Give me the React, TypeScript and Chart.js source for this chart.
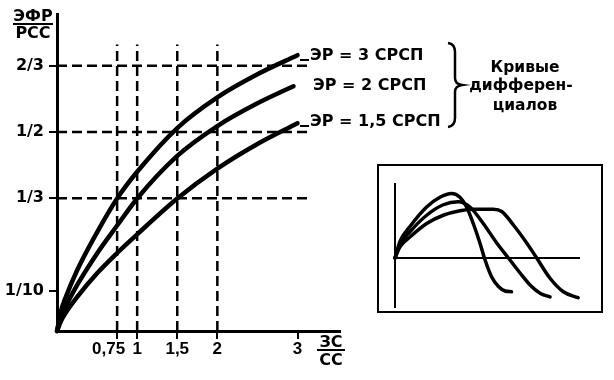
import React, { useEffect, useRef } from "react";
import { Chart, registerables } from "chart.js";

Chart.register(...registerables);

// ---- Main chart data ----
const xTickValues = [0.75, 1, 1.5, 2, 3];
const xTickLabels = ["0,75", "1", "1,5", "2", "3"];
const yTickValues = [0.1, 1 / 3, 1 / 2, 2 / 3];
const yTickLabels = ["1/10", "1/3", "1/2", "2/3"];
const guideX = [0.75, 1, 1.5, 2];
const guideY = [1 / 3, 1 / 2, 2 / 3];

const er3X = [0, 0.05, 0.1, 0.25, 0.5, 0.75, 1, 1.5, 2, 2.5, 3];
const er3 = [0, 0.05, 0.08, 0.152, 0.248, 0.333, 0.4, 0.51, 0.587, 0.645, 0.693];
const er2X = [0, 0.05, 0.1, 0.25, 0.5, 0.75, 1, 1.5, 2, 2.5, 2.95];
const er2 = [0, 0.035, 0.058, 0.115, 0.195, 0.265, 0.333, 0.44, 0.515, 0.572, 0.615];
const er15X = [0, 0.05, 0.1, 0.25, 0.5, 0.75, 1, 1.5, 2, 2.5, 3];
const er15 = [0, 0.025, 0.043, 0.085, 0.145, 0.196, 0.243, 0.333, 0.408, 0.47, 0.522];

const curveLabels = ["ЭР = 3 СРСП", "ЭР = 2 СРСП", "ЭР = 1,5 СРСП"];
const noteLines = ["Кривые", "дифферен-", "циалов"];

// ---- Inset data ----
const insetAX = [0, 0.27, 0.81, 1.71, 2.43, 3.06, 3.51, 3.87, 4.23, 4.59, 4.86, 5.22, 5.59, 5.95, 6.3];
const insetAY = [0, 0.22, 0.42, 0.68, 0.81, 0.86, 0.81, 0.68, 0.46, 0.2, -0.02, -0.25, -0.38, -0.44, -0.45];
const insetBX = [0, 0.27, 0.81, 1.71, 2.61, 3.42, 4.05, 4.77, 5.5, 6.13, 6.76, 7.3, 7.84, 8.38];
const insetBY = [0, 0.18, 0.35, 0.57, 0.71, 0.75, 0.68, 0.46, 0.2, 0, -0.2, -0.36, -0.47, -0.52];
const insetCX = [0, 0.27, 0.81, 1.71, 2.61, 3.51, 4.23, 5.32, 5.77, 6.4, 7.12, 7.66, 8.38, 9.1, 9.9];
const insetCY = [0, 0.15, 0.28, 0.46, 0.57, 0.63, 0.65, 0.65, 0.62, 0.44, 0.2, 0, -0.27, -0.45, -0.53];

const FONT = "'DejaVu Sans', 'Liberation Sans', Arial, sans-serif";
const FONT2 = "'Liberation Sans', Arial, sans-serif";

const zip = (xs: number[], ys: number[]) => xs.map((x, i) => ({ x, y: ys[i] }));

const annotations = {
  id: "annotations",
  afterDraw(chart: any) {
    const ctx = chart.ctx as CanvasRenderingContext2D;
    const xs = chart.scales.x;
    const bottom = chart.chartArea.bottom;
    ctx.save();
    ctx.fillStyle = "#000";
    ctx.strokeStyle = "#000";
    ctx.textBaseline = "alphabetic";

    // X tick labels
    ctx.font = `bold 17px ${FONT2}`;
    xTickValues.forEach((v, i) => {
      const px = xs.getPixelForValue(v);
      if (i === 0) {
        ctx.textAlign = "right";
        ctx.fillText(xTickLabels[i], px + 8, bottom + 23);
      } else {
        ctx.textAlign = "center";
        ctx.fillText(xTickLabels[i], px, bottom + 23);
      }
    });

    ctx.font = `bold 16px ${FONT}`;
    // Y axis title fraction
    ctx.textAlign = "center";
    ctx.fillText("ЭФР", 33, 21);
    ctx.lineWidth = 2;
    ctx.beginPath();
    ctx.moveTo(13, 24);
    ctx.lineTo(53, 24);
    ctx.stroke();
    ctx.fillText("РСС", 33, 38);

    // X axis title fraction
    ctx.fillText("ЗС", 331, 347);
    ctx.beginPath();
    ctx.moveTo(317, 350);
    ctx.lineTo(345, 350);
    ctx.stroke();
    ctx.fillText("СС", 331, 365);

    // Curve labels
    ctx.textAlign = "left";
    ctx.fillText(curveLabels[0], 310, 60);
    ctx.fillText(curveLabels[1], 313, 90);
    ctx.fillText(curveLabels[2], 310, 126);
    ctx.lineWidth = 2;
    ctx.beginPath();
    ctx.moveTo(300, 60);
    ctx.lineTo(309, 60);
    ctx.moveTo(300, 126);
    ctx.lineTo(309, 126);
    ctx.stroke();

    // Brace
    ctx.lineWidth = 2.5;
    ctx.beginPath();
    ctx.moveTo(448, 43);
    ctx.quadraticCurveTo(455, 44, 455, 52);
    ctx.lineTo(455, 78);
    ctx.quadraticCurveTo(455, 84, 462, 85);
    ctx.quadraticCurveTo(455, 86, 455, 92);
    ctx.lineTo(455, 118);
    ctx.quadraticCurveTo(455, 126, 448, 127);
    ctx.stroke();

    // Note text
    ctx.font = `bold 15.5px ${FONT}`;
    ctx.textAlign = "center";
    ctx.fillText(noteLines[0], 525, 72);
    ctx.fillText(noteLines[1], 521, 90);
    ctx.fillText(noteLines[2], 525, 110);
    ctx.restore();
  },
};

function MainChart() {
  const ref = useRef<HTMLCanvasElement>(null);
  useEffect(() => {
    if (!ref.current) return;
    const dashed = {
      borderColor: "#000",
      borderWidth: 2.5,
      borderDash: [10, 5],
      pointRadius: 0,
      fill: false,
      clip: false as any,
    };
    const datasets: any[] = [];
    guideX.forEach((gx) =>
      datasets.push({ ...dashed, data: [{ x: gx, y: 0 }, { x: gx, y: 0.72 }] })
    );
    guideY.forEach((gy) =>
      datasets.push({ ...dashed, data: [{ x: 0, y: gy }, { x: 3.15, y: gy }] })
    );
    const solid = {
      borderColor: "#000",
      borderWidth: 4.5,
      pointRadius: 0,
      fill: false,
      cubicInterpolationMode: "monotone",
      borderCapStyle: "round",
      clip: false as any,
    };
    datasets.push({ ...solid, label: curveLabels[0], data: zip(er3X, er3) });
    datasets.push({ ...solid, label: curveLabels[1], data: zip(er2X, er2) });
    datasets.push({ ...solid, label: curveLabels[2], data: zip(er15X, er15) });

    const chart = new Chart(ref.current, {
      type: "line",
      data: { datasets },
      options: {
        animation: false,
        responsive: false,
        events: [],
        layout: { padding: { left: 0, right: 274, top: 10, bottom: 0 } },
        plugins: { legend: { display: false }, tooltip: { enabled: false } },
        scales: {
          x: {
            type: "linear",
            min: 0,
            max: 3.53,
            afterFit: (s: any) => {
              s.height = 49;
            },
            afterBuildTicks: (s: any) => {
              s.ticks = xTickValues.map((v) => ({ value: v }));
            },
            ticks: { display: false },
            grid: { drawOnChartArea: false, drawTicks: true, tickLength: 8, color: "#000", lineWidth: 2 },
            border: { display: true, color: "#000", width: 3 },
          },
          y: {
            type: "linear",
            min: 0,
            max: 0.795,
            afterFit: (s: any) => {
              s.width = 57;
            },
            afterBuildTicks: (s: any) => {
              s.ticks = yTickValues.map((v) => ({ value: v }));
            },
            ticks: {
              autoSkip: false,
              color: "#000",
              padding: 5,
              font: { family: FONT, weight: "bold", size: 16 },
              callback: (v: any) => {
                const i = yTickValues.findIndex((t) => Math.abs(t - v) < 1e-6);
                return i >= 0 ? yTickLabels[i] : "";
              },
            },
            grid: { drawOnChartArea: false, drawTicks: true, tickLength: 8, color: "#000", lineWidth: 2 },
            border: { display: true, color: "#000", width: 3 },
          },
        },
      } as any,
      plugins: [annotations],
    });
    return () => chart.destroy();
  }, []);
  return <canvas ref={ref} width={614} height={380} style={{ position: "absolute", left: 0, top: 0 }} />;
}

function InsetChart() {
  const ref = useRef<HTMLCanvasElement>(null);
  useEffect(() => {
    if (!ref.current) return;
    const axisStyle = { borderColor: "#000", borderWidth: 2, pointRadius: 0, fill: false, clip: false as any };
    const curveStyle = {
      borderColor: "#000",
      borderWidth: 3.5,
      pointRadius: 0,
      fill: false,
      cubicInterpolationMode: "monotone",
      borderCapStyle: "round",
      clip: false as any,
    };
    const chart = new Chart(ref.current, {
      type: "line",
      data: {
        datasets: [
          { ...axisStyle, data: [{ x: 0, y: -0.667 }, { x: 0, y: 1 }] },
          { ...axisStyle, data: [{ x: 0, y: 0 }, { x: 10, y: 0 }] },
          { ...curveStyle, data: zip(insetAX, insetAY) },
          { ...curveStyle, data: zip(insetBX, insetBY) },
          { ...curveStyle, data: zip(insetCX, insetCY) },
        ],
      },
      options: {
        animation: false,
        responsive: false,
        events: [],
        layout: { padding: { left: 16, right: 21, top: 17, bottom: 3 } },
        plugins: { legend: { display: false }, tooltip: { enabled: false } },
        scales: {
          x: { type: "linear", min: 0, max: 10, display: false },
          y: { type: "linear", min: -0.667, max: 1, display: false },
        },
      } as any,
    });
    return () => chart.destroy();
  }, []);
  return <canvas ref={ref} width={222} height={145} style={{ display: "block" }} />;
}

export default function App() {
  return (
    <div
      style={{
        position: "fixed",
        left: 0,
        top: 0,
        width: 614,
        height: 380,
        background: "#fff",
        overflow: "hidden",
      }}
    >
      <MainChart />
      <div
        style={{
          position: "absolute",
          left: 377,
          top: 164,
          width: 226,
          height: 149,
          boxSizing: "border-box",
          border: "2px solid #000",
          background: "#fff",
        }}
      >
        <InsetChart />
      </div>
    </div>
  );
}
